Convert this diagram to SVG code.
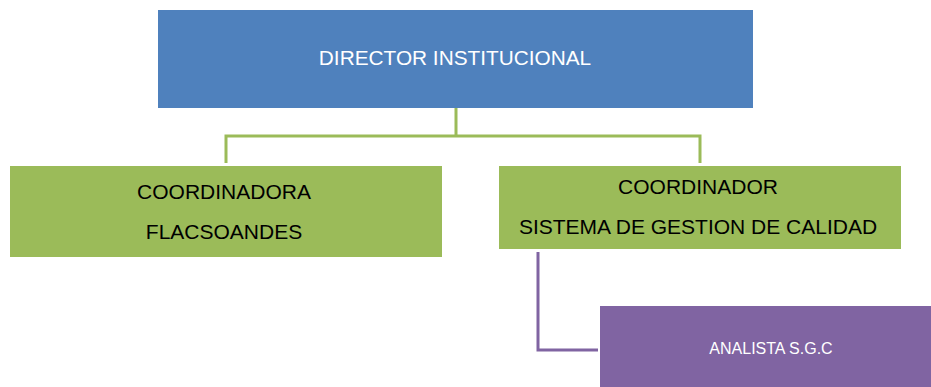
<svg xmlns="http://www.w3.org/2000/svg" width="931" height="387" viewBox="0 0 931 387">
<style>
.t{font-family:"Liberation Sans",Arial,sans-serif;text-anchor:middle}
.w{fill:#ffffff}
.k{fill:#000000}
.g{stroke:#9BBB59;stroke-width:3;fill:none}
.p{stroke:#8064A2;stroke-width:3;fill:none}
</style>
<rect width="931" height="387" fill="#ffffff"/>
<g id="connectors">
<path class="g" d="M456 108 V136 M226 163 V136 H700 V163"/>
<path class="p" d="M538 252 V350 H598"/>
</g>
<g id="director">
<rect x="158" y="10" width="595" height="98" fill="#4F81BD"/>
<text class="t w" x="455" y="65" font-size="20.8">DIRECTOR INSTITUCIONAL</text>
</g>
<g id="coordinadora">
<rect x="10" y="166" width="432" height="91" fill="#9BBB59"/>
<text class="t k" x="224" y="199" font-size="21">COORDINADORA</text>
<text class="t k" x="224" y="239" font-size="21">FLACSOANDES</text>
</g>
<g id="coordinador">
<rect x="499" y="166" width="402" height="83" fill="#9BBB59"/>
<text class="t k" x="698" y="194" font-size="21">COORDINADOR</text>
<text class="t k" x="698" y="234" font-size="21">SISTEMA DE GESTION DE CALIDAD</text>
</g>
<g id="analista">
<rect x="600" y="306" width="331" height="81" fill="#8064A2"/>
<text class="t w" x="771" y="354" font-size="16">ANALISTA S.G.C</text>
</g>
</svg>
